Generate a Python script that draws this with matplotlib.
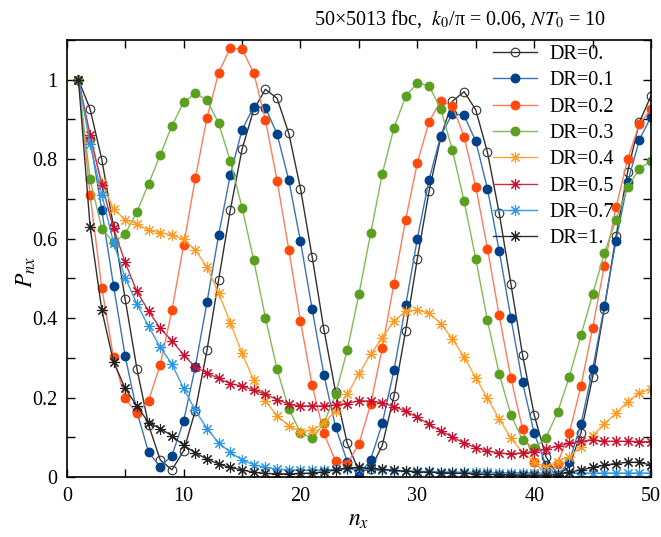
import numpy as np
import matplotlib
matplotlib.use("Agg")
import matplotlib.pyplot as plt
from matplotlib.ticker import MultipleLocator, FixedLocator

plt.rcParams['font.family'] = ['Liberation Serif', 'DejaVu Serif']
plt.rcParams['mathtext.fontset'] = 'stix'

# n_x positions
n_x = np.arange(1, 51)

# P_nx for each disorder ratio DR
p_dr00 = [1.0, 0.926, 0.799, 0.631, 0.447, 0.273, 0.131, 0.043, 0.018, 0.066,
          0.167, 0.319, 0.497, 0.673, 0.825, 0.925, 0.976, 0.953, 0.865, 0.726,
          0.554, 0.372, 0.215, 0.085, 0.015, 0.02, 0.08, 0.204, 0.368, 0.55,
          0.719, 0.855, 0.946, 0.970, 0.924, 0.817, 0.665, 0.487, 0.308, 0.156,
          0.051, 0.005, 0.026, 0.111, 0.252, 0.424, 0.606, 0.769, 0.893, 0.96]
p_dr01 = [1.0, 0.850, 0.671, 0.482, 0.304, 0.165, 0.062, 0.026, 0.054, 0.141,
          0.277, 0.44, 0.61, 0.761, 0.874, 0.932, 0.930, 0.863, 0.747, 0.593,
          0.422, 0.258, 0.126, 0.039, 0.003, 0.044, 0.135, 0.269, 0.432, 0.60,
          0.748, 0.859, 0.915, 0.91, 0.845, 0.725, 0.570, 0.401, 0.238, 0.110,
          0.03, 0.002, 0.039, 0.133, 0.271, 0.430, 0.595, 0.742, 0.849, 0.907]
p_dr02 = [1.0, 0.709, 0.476, 0.302, 0.198, 0.160, 0.192, 0.283, 0.42, 0.583,
          0.752, 0.904, 1.018, 1.080, 1.077, 1.017, 0.899, 0.746, 0.572, 0.392,
          0.231, 0.11, 0.04, 0.034, 0.083, 0.183, 0.325, 0.487, 0.648, 0.791,
          0.894, 0.947, 0.934, 0.857, 0.731, 0.575, 0.407, 0.25, 0.121, 0.039,
          0.005, 0.034, 0.111, 0.229, 0.375, 0.532, 0.679, 0.80, 0.889, 0.926]
p_dr03 = [1.0, 0.749, 0.625, 0.591, 0.612, 0.667, 0.738, 0.811, 0.884, 0.943,
          0.966, 0.949, 0.89, 0.795, 0.678, 0.545, 0.401, 0.271, 0.171, 0.112,
          0.097, 0.135, 0.208, 0.319, 0.46, 0.613, 0.763, 0.879, 0.958, 0.992,
          0.985, 0.926, 0.823, 0.694, 0.549, 0.394, 0.26, 0.157, 0.093, 0.072,
          0.099, 0.163, 0.252, 0.357, 0.46, 0.563, 0.648, 0.729, 0.776, 0.796]
p_dr04 = [1.0, 0.85, 0.74, 0.675, 0.648, 0.637, 0.621, 0.615, 0.61, 0.598,
          0.572, 0.528, 0.463, 0.388, 0.311, 0.244, 0.192, 0.154, 0.129, 0.114,
          0.118, 0.135, 0.167, 0.208, 0.26, 0.309, 0.351, 0.392, 0.418, 0.42,
          0.413, 0.386, 0.348, 0.302, 0.25, 0.198, 0.146, 0.099, 0.061, 0.039,
          0.024, 0.039, 0.051, 0.076, 0.104, 0.134, 0.16, 0.19, 0.212, 0.221]
p_dr05 = [1.0, 0.861, 0.736, 0.626, 0.54, 0.467, 0.418, 0.374, 0.343, 0.307,
          0.277, 0.262, 0.248, 0.235, 0.229, 0.219, 0.208, 0.195, 0.183, 0.179,
          0.179, 0.179, 0.181, 0.185, 0.192, 0.191, 0.187, 0.177, 0.166, 0.15,
          0.133, 0.116, 0.101, 0.085, 0.074, 0.065, 0.061, 0.058, 0.061, 0.064,
          0.07, 0.078, 0.085, 0.09, 0.093, 0.09, 0.09, 0.09, 0.089, 0.089]
p_dr07 = [1.0, 0.838, 0.711, 0.59, 0.502, 0.436, 0.379, 0.327, 0.284, 0.223,
          0.168, 0.122, 0.086, 0.062, 0.043, 0.031, 0.024, 0.02, 0.018, 0.017,
          0.017, 0.018, 0.019, 0.021, 0.022, 0.02, 0.018, 0.016, 0.015, 0.014,
          0.014, 0.013, 0.013, 0.012, 0.012, 0.012, 0.011, 0.011, 0.011, 0.01,
          0.01, 0.01, 0.01, 0.01, 0.01, 0.01, 0.01, 0.01, 0.01, 0.01]
p_dr10 = [1.0, 0.629, 0.42, 0.29, 0.223, 0.179, 0.137, 0.122, 0.104, 0.08,
          0.061, 0.045, 0.033, 0.024, 0.018, 0.012, 0.009, 0.008, 0.008, 0.009,
          0.01, 0.013, 0.018, 0.023, 0.024, 0.022, 0.019, 0.017, 0.015, 0.013,
          0.012, 0.011, 0.01, 0.009, 0.008, 0.007, 0.006, 0.006, 0.005, 0.005,
          0.005, 0.006, 0.012, 0.018, 0.024, 0.03, 0.034, 0.037, 0.037, 0.03]

labels = ["DR=0.", "DR=0.1", "DR=0.2", "DR=0.3", "DR=0.4", "DR=0.5", "DR=0.7", "DR=1."]
series = [p_dr00, p_dr01, p_dr02, p_dr03, p_dr04, p_dr05, p_dr07, p_dr10]

# (line colour, marker colour, marker, filled)
star = (8, 2, 0)
styles = [
    ("#303030", "#303030", "o", False),
    ("#3a72b8", "#00418a", "o", True),
    ("#ff7b5c", "#ff4a0c", "o", True),
    ("#80bb55", "#5a9f20", "o", True),
    ("#ffa43a", "#ff9a20", star, True),
    ("#cc3045", "#c8102e", star, True),
    ("#3a9ee6", "#2a96e8", star, True),
    ("#303030", "#202020", star, True),
]

fig = plt.figure(figsize=(6.61, 5.37), dpi=100)
ax = fig.add_axes([0.101, 0.1117, 0.884, 0.8138])

for vals, lab, (lc, mc, mk, filled) in zip(series, labels, styles):
    if mk == "o":
        ax.plot(n_x, vals, color=lc, lw=1.0, marker="o", ms=6.2,
                markerfacecolor=mc if filled else "none",
                markeredgecolor=mc, markeredgewidth=0.9 if filled else 0.8,
                label=lab)
    else:
        ax.plot(n_x, vals, color=lc, lw=1.0, marker=mk, ms=8,
                markeredgecolor=mc, markeredgewidth=0.8, label=lab)

ax.set_xlim(0, 50)
ax.set_ylim(0, 1.1)
ax.xaxis.set_major_locator(MultipleLocator(10))
ax.xaxis.set_minor_locator(MultipleLocator(5))
ax.yaxis.set_major_locator(FixedLocator([0, 0.2, 0.4, 0.6, 0.8, 1.0]))
ax.yaxis.set_minor_locator(MultipleLocator(0.1))
ax.set_yticklabels(["0", "0.2", "0.4", "0.6", "0.8", "1"])
ax.tick_params(which="both", direction="in", top=True, right=True,
               length=6, width=1.0, labelsize=14.5, pad=7)
for sp in ax.spines.values():
    sp.set_linewidth(1.2)

ax.set_xlabel(r"$n_x$", fontsize=17)
ax.set_ylabel(r"$P_{nx}$", fontsize=17)
ax.xaxis.set_label_coords(0.5, -0.076)
ax.yaxis.set_label_coords(-0.05, 0.47)

fig.text(0.696, 0.964, r"50×5013 fbc,  $k_0$/π = 0.06, $NT_0$ = 10",
         ha="center", va="center", fontsize=14.5)

leg = ax.legend(loc="upper left", bbox_to_anchor=(0.722, 0.998), frameon=False,
                fontsize=14.5, handlelength=2.2, handletextpad=0.6,
                labelspacing=0.36, borderpad=0.2, borderaxespad=0)

fig.savefig("out.png", dpi=100)
